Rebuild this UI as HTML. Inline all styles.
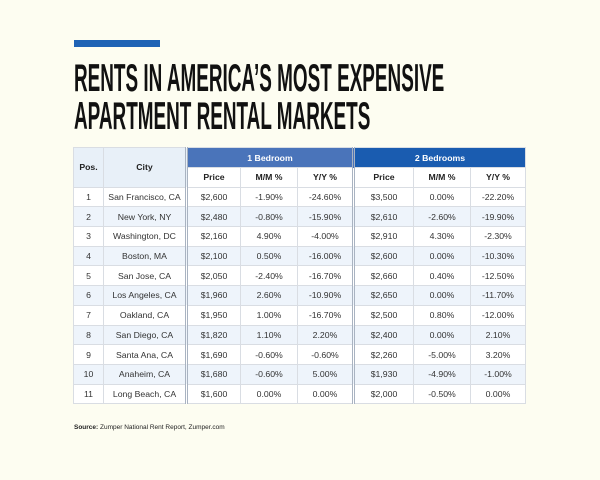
<!DOCTYPE html><html><head><style>
body{margin:0;width:600px;height:480px;background:#fdfdf1;position:relative;font-family:"Liberation Sans",sans-serif;overflow:hidden}
.bar{position:absolute;left:74px;top:40px;width:86px;height:7px;background:#1f63b5}
.t{position:absolute;left:74px;font-weight:bold;font-size:39px;line-height:39px;transform:scaleX(0.485);transform-origin:left top;white-space:nowrap;color:#111}
table{position:absolute;left:73px;top:147px;border-collapse:collapse;font-size:8.7px;color:#333;background:#fff}
td{border:1px solid #d9dde3;text-align:center;height:18.7px;padding:0}
.h1{background:#4a74ba;color:#fff;font-weight:bold;height:19px}
.h2{background:#1a5cb0;color:#fff;font-weight:bold}
.hp{background:#e8f0f8;font-weight:bold;color:#222}
.hs td{font-weight:bold;color:#222;background:#fff}
tr.a td{background:#eef4fb}
.dl{border-left:3px double #a9b3c1}
table{border:1.5px solid #9aa3ad}
.src{position:absolute;left:74px;top:424px;font-size:6.5px;color:#222}
</style></head><body>
<div class="bar"></div>
<div class="t" style="top:59px">RENTS IN AMERICA’S MOST EXPENSIVE</div>
<div class="t" style="top:97px">APARTMENT RENTAL MARKETS</div>
<table>
<colgroup><col style="width:30px"><col style="width:83px"><col style="width:54px"><col style="width:57px"><col style="width:56px"><col style="width:60px"><col style="width:57px"><col style="width:55px"></colgroup>
<tr><td rowspan="2" class="hp">Pos.</td><td rowspan="2" class="hp">City</td><td colspan="3" class="h1 dl">1 Bedroom</td><td colspan="3" class="h2 dl">2 Bedrooms</td></tr>
<tr class="hs"><td class="dl">Price</td><td>M/M %</td><td>Y/Y %</td><td class="dl">Price</td><td>M/M %</td><td>Y/Y %</td></tr>
<tr><td>1</td><td>San Francisco, CA</td><td class="dl">$2,600</td><td>-1.90%</td><td>-24.60%</td><td class="dl">$3,500</td><td>0.00%</td><td>-22.20%</td></tr>
<tr class="a"><td>2</td><td>New York, NY</td><td class="dl">$2,480</td><td>-0.80%</td><td>-15.90%</td><td class="dl">$2,610</td><td>-2.60%</td><td>-19.90%</td></tr>
<tr><td>3</td><td>Washington, DC</td><td class="dl">$2,160</td><td>4.90%</td><td>-4.00%</td><td class="dl">$2,910</td><td>4.30%</td><td>-2.30%</td></tr>
<tr class="a"><td>4</td><td>Boston, MA</td><td class="dl">$2,100</td><td>0.50%</td><td>-16.00%</td><td class="dl">$2,600</td><td>0.00%</td><td>-10.30%</td></tr>
<tr><td>5</td><td>San Jose, CA</td><td class="dl">$2,050</td><td>-2.40%</td><td>-16.70%</td><td class="dl">$2,660</td><td>0.40%</td><td>-12.50%</td></tr>
<tr class="a"><td>6</td><td>Los Angeles, CA</td><td class="dl">$1,960</td><td>2.60%</td><td>-10.90%</td><td class="dl">$2,650</td><td>0.00%</td><td>-11.70%</td></tr>
<tr><td>7</td><td>Oakland, CA</td><td class="dl">$1,950</td><td>1.00%</td><td>-16.70%</td><td class="dl">$2,500</td><td>0.80%</td><td>-12.00%</td></tr>
<tr class="a"><td>8</td><td>San Diego, CA</td><td class="dl">$1,820</td><td>1.10%</td><td>2.20%</td><td class="dl">$2,400</td><td>0.00%</td><td>2.10%</td></tr>
<tr><td>9</td><td>Santa Ana, CA</td><td class="dl">$1,690</td><td>-0.60%</td><td>-0.60%</td><td class="dl">$2,260</td><td>-5.00%</td><td>3.20%</td></tr>
<tr class="a"><td>10</td><td>Anaheim, CA</td><td class="dl">$1,680</td><td>-0.60%</td><td>5.00%</td><td class="dl">$1,930</td><td>-4.90%</td><td>-1.00%</td></tr>
<tr><td>11</td><td>Long Beach, CA</td><td class="dl">$1,600</td><td>0.00%</td><td>0.00%</td><td class="dl">$2,000</td><td>-0.50%</td><td>0.00%</td></tr>
</table>
<div class="src"><b>Source:</b> Zumper National Rent Report, Zumper.com</div>
</body></html>
